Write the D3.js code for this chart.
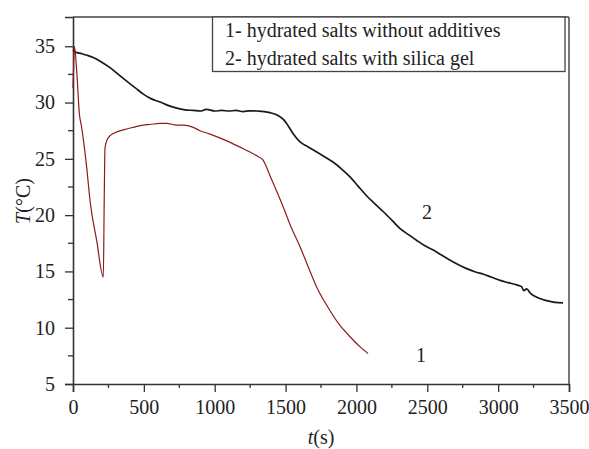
<!DOCTYPE html>
<html><head><meta charset="utf-8">
<script src="https://cdn.jsdelivr.net/npm/d3@7/dist/d3.min.js"></script>
<style>
body{margin:0;background:#fff;}
text{font-family:"Liberation Serif","Times New Roman",serif;fill:#222;}
</style></head>
<body><svg id="c" width="589" height="449"></svg>
<script>
// Series 1: hydrated salts without additives (red)
const time1 = [0, 5, 10, 26, 45, 61, 97, 120, 167, 214, 220, 226, 238, 261, 284, 379, 426, 496, 543, 614, 661, 732, 779, 849, 896, 967, 1085, 1202, 1249, 1300, 1340, 1400, 1484, 1540, 1602, 1660, 1720, 1800, 1884, 1955, 2026, 2082];
const temp1 = [31.3, 33.5, 35.0, 32.8, 29.0, 27.8, 24.2, 21.3, 17.75, 14.5, 21.0, 26.0, 26.6, 27.05, 27.25, 27.65, 27.8, 28.0, 28.05, 28.15, 28.15, 28.0, 28.0, 27.8, 27.5, 27.2, 26.6, 25.9, 25.6, 25.25, 24.9, 23.2, 20.7, 18.9, 17.2, 15.4, 13.6, 11.8, 10.2, 9.2, 8.3, 7.7];
// Series 2: hydrated salts with silica gel (black)
const time2 = [0, 15, 60, 100, 143, 200, 261, 320, 379, 440, 496, 550, 614, 670, 732, 790, 849, 900, 940, 1000, 1050, 1100, 1150, 1200, 1249, 1300, 1350, 1390, 1440, 1484, 1520, 1555, 1602, 1660, 1720, 1780, 1837, 1900, 1955, 2010, 2073, 2130, 2190, 2250, 2308, 2370, 2426, 2480, 2543, 2600, 2661, 2720, 2778, 2840, 2896, 2950, 3014, 3070, 3131, 3165, 3180, 3202, 3225, 3273, 3343, 3400, 3458];
const temp2 = [34.7, 34.5, 34.35, 34.2, 34.0, 33.6, 33.1, 32.5, 31.9, 31.3, 30.75, 30.35, 30.05, 29.75, 29.5, 29.35, 29.3, 29.25, 29.4, 29.25, 29.3, 29.25, 29.3, 29.2, 29.27, 29.25, 29.2, 29.1, 28.9, 28.5, 27.9, 27.2, 26.5, 26.05, 25.6, 25.15, 24.7, 24.05, 23.4, 22.6, 21.7, 21.0, 20.3, 19.55, 18.8, 18.25, 17.75, 17.3, 16.9, 16.45, 16.0, 15.6, 15.25, 14.95, 14.75, 14.5, 14.2, 14.0, 13.8, 13.65, 13.3, 13.45, 13.1, 12.7, 12.4, 12.25, 12.2];
const xTicks = [0, 500, 1000, 1500, 2000, 2500, 3000, 3500];
const yTicks = [5, 10, 15, 20, 25, 30, 35];
const legendLines = ["1- hydrated salts without additives", "2- hydrated salts with silica gel"];

const svg = d3.select("#c");
const L = 73, R = 569, T = 17, B = 384;
const x = d3.scaleLinear().domain([0, 3500]).range([L, R]);
const y = d3.scaleLinear().domain([5, 37.6]).range([B, T]);

const axisCol = "#333";
// minor ticks
const xMinor = d3.range(250, 3500, 500);
const yMinor = d3.range(7.5, 37.5, 5);
svg.append("g").selectAll("line").data(xMinor).join("line")
  .attr("x1", d => x(d)).attr("x2", d => x(d)).attr("y1", B).attr("y2", B + 4)
  .attr("stroke", axisCol).attr("stroke-width", 1.3);
svg.append("g").selectAll("line").data(yMinor).join("line")
  .attr("x1", L - 5).attr("x2", L).attr("y1", d => y(d)).attr("y2", d => y(d))
  .attr("stroke", axisCol).attr("stroke-width", 1.3);

// axes
const xAxis = svg.append("g").attr("transform", `translate(0,${B})`)
  .call(d3.axisBottom(x).tickValues(xTicks).tickFormat(d3.format("d")).tickSize(8).tickPadding(8));
const yAxis = svg.append("g").attr("transform", `translate(${L},0)`)
  .call(d3.axisLeft(y).tickValues(yTicks).tickSize(8).tickPadding(10));
[xAxis, yAxis].forEach(g => {
  g.select(".domain").attr("stroke", axisCol).attr("stroke-width", 1.6);
  g.selectAll(".tick line").attr("stroke", axisCol).attr("stroke-width", 1.3);
  g.selectAll(".tick text").attr("font-size", 20).attr("fill", "#222")
    .attr("font-family", "Liberation Serif, Times New Roman, serif");
});
// frame top and right
svg.append("line").attr("x1", L).attr("x2", R).attr("y1", T).attr("y2", T).attr("stroke", "#444").attr("stroke-width", 1.4);
svg.append("line").attr("x1", R).attr("x2", R).attr("y1", T).attr("y2", B).attr("stroke", "#555").attr("stroke-width", 1.6);

// lines
const line = d3.line().x(d => x(d[0])).y(d => y(d[1])).curve(d3.curveMonotoneX);
svg.append("path").datum(time2.map((t, i) => [t, temp2[i]]))
  .attr("d", line).attr("fill", "none").attr("stroke", "#1a1a1a").attr("stroke-width", 1.7);
svg.append("path").datum(time1.map((t, i) => [t, temp1[i]]))
  .attr("d", line).attr("fill", "none").attr("stroke", "#8e1b1b").attr("stroke-width", 1.2);

// curve labels
svg.append("text").attr("x", 427).attr("y", 219).attr("text-anchor", "middle").attr("font-size", 20).text("2");
svg.append("text").attr("x", 421).attr("y", 362).attr("text-anchor", "middle").attr("font-size", 20).text("1");

// legend box
svg.append("rect").attr("x", 212.5).attr("y", T).attr("width", 352.5).attr("height", 54.5)
  .attr("fill", "#fff").attr("stroke", "#444").attr("stroke-width", 1.3);
svg.append("g").selectAll("text").data(legendLines).join("text")
  .attr("x", 225).attr("y", (d, i) => 37 + i * 28).attr("font-size", 20).text(d => d);

// axis titles
svg.append("text").attr("x", 321).attr("y", 444).attr("text-anchor", "middle").attr("font-size", 20)
  .html('<tspan font-style="italic">t</tspan>(s)');
svg.append("text").attr("transform", "translate(30,201) rotate(-90)").attr("text-anchor", "middle").attr("font-size", 20)
  .html('<tspan font-style="italic">T</tspan>(°C)');
</script></body></html>
